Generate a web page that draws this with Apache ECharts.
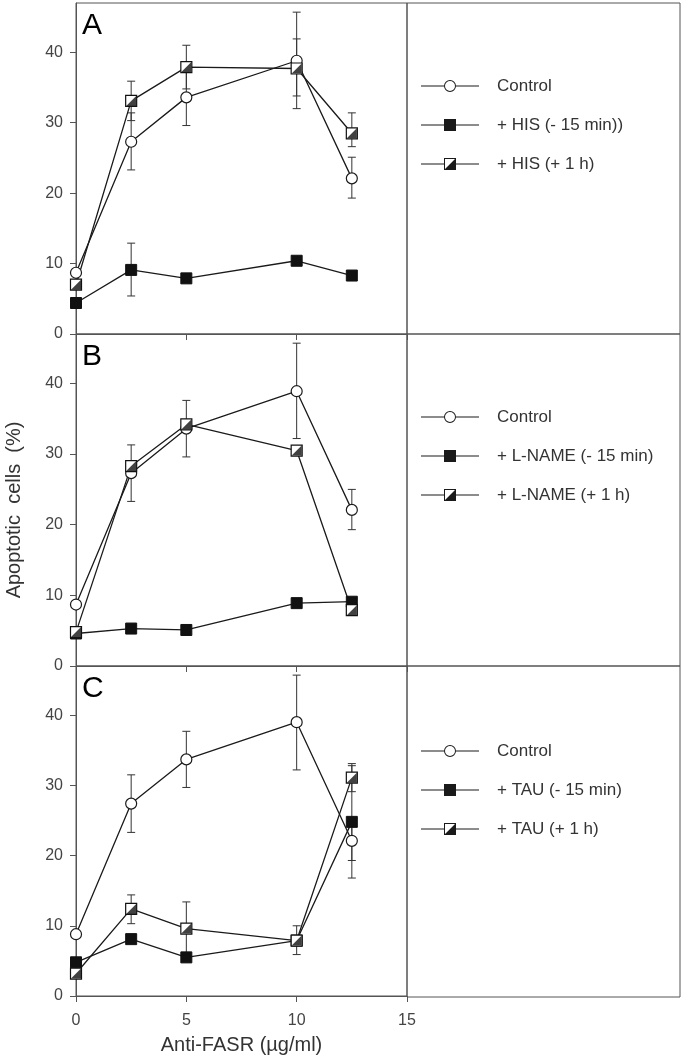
<!DOCTYPE html>
<html><head><meta charset="utf-8">
<script src="https://cdn.jsdelivr.net/npm/echarts@6/dist/echarts.min.js"></script>
<style>html,body{margin:0;padding:0;background:#fff}#c{width:683px;height:1056px}</style>
</head><body><div id="c"></div><script>
// ---------- data ----------
const doses = [0, 2.5, 5, 10, 12.5];
const xTicks = [0, 5, 10, 15];
const yTicks = [0, 10, 20, 30, 40];
const panelLetters = ['A', 'B', 'C'];
const xTitle = 'Anti-FASR (µg/ml)';
const yTitle = 'Apoptotic  cells  (%)';

const namesA = ['Control', '+ HIS (- 15 min))', '+ HIS (+ 1 h)'];
const namesB = ['Control', '+ L-NAME (- 15 min)', '+ L-NAME (+ 1 h)'];
const namesC = ['Control', '+ TAU (- 15 min)', '+ TAU (+ 1 h)'];

// Panel A
const controlA    = [8.7, 27.3, 33.6, 38.8, 22.1];
const controlA_lo = [null, 23.3, 29.6, 32.0, 19.3];
const controlA_hi = [null, 31.4, 37.6, 45.7, 25.1];
const hisPreA     = [4.4, 9.1, 7.9, 10.4, 8.3];
const hisPreA_lo  = [null, 5.4, null, null, null];
const hisPreA_hi  = [null, 12.9, null, null, null];
const hisPostA    = [7.0, 33.1, 37.9, 37.7, 28.5];
const hisPostA_lo = [null, 30.3, 34.8, 33.8, 26.6];
const hisPostA_hi = [null, 35.9, 41.0, 41.9, 31.4];

// Panel B
const controlB    = [8.7, 27.3, 33.6, 38.9, 22.1];
const controlB_lo = [null, 23.3, 29.6, 32.2, 19.3];
const controlB_hi = [null, 31.3, 37.6, 45.7, 25.0];
const lnamePreB    = [4.6, 5.3, 5.1, 8.9, 9.1];
const lnamePreB_lo = [null, null, null, null, null];
const lnamePreB_hi = [null, null, null, null, null];
const lnamePostB    = [4.8, 28.3, 34.2, 30.5, 7.9];
const lnamePostB_lo = [null, null, null, null, null];
const lnamePostB_hi = [null, null, null, null, null];

// Panel C
const controlC    = [8.8, 27.4, 33.7, 39.0, 22.1];
const controlC_lo = [null, 23.3, 29.7, 32.2, 19.3];
const controlC_hi = [null, 31.5, 37.7, 45.7, 25.0];
const tauPreC    = [4.8, 8.1, 5.5, 7.9, 24.8];
const tauPreC_lo = [null, null, null, 5.9, 16.8];
const tauPreC_hi = [null, null, null, 10.0, 32.8];
const tauPostC    = [3.2, 12.4, 9.6, 7.9, 31.1];
const tauPostC_lo = [null, 10.3, 5.6, null, 29.1];
const tauPostC_hi = [null, 14.4, 13.4, null, 33.1];

// ---------- layout ----------
const FONT = 'Liberation Sans, Arial, Helvetica, sans-serif';
const INK = '#1a1a1a';
const AX = '#555';
const panelTops = [3, 334, 666];
const panelHeights = [331, 332, 331];
const legendTops = [77, 408, 742];

const panels = [
  { names: namesA, series: [[controlA, controlA_lo, controlA_hi], [hisPreA, hisPreA_lo, hisPreA_hi], [hisPostA, hisPostA_lo, hisPostA_hi]] },
  { names: namesB, series: [[controlB, controlB_lo, controlB_hi], [lnamePreB, lnamePreB_lo, lnamePreB_hi], [lnamePostB, lnamePostB_lo, lnamePostB_hi]] },
  { names: namesC, series: [[controlC, controlC_lo, controlC_hi], [tauPreC, tauPreC_lo, tauPreC_hi], [tauPostC, tauPostC_lo, tauPostC_hi]] }
];

const lineL = 'M0,5.5 L23,5.5 L23,6.5 L0,6.5 Z ';
const lineR = 'M35,5.5 L58,5.5 L58,6.5 L35,6.5 Z ';
const iconCircle = 'path://' + lineL + lineR +
  'M23,6 A6,6 0 1,1 35,6 A6,6 0 1,1 23,6 Z M24,6 A5,5 0 1,0 34,6 A5,5 0 1,0 24,6 Z';
const iconFilled = 'path://' + lineL + lineR + 'M23,0 L35,0 L35,12 L23,12 Z';
const iconHalf = 'path://' + lineL + lineR +
  'M23,0 L35,0 L35,12 L23,12 Z M24,1 L24,11 L34,11 L34,1 Z M34,1 L34,11 L24,11 Z';
const legendIcons = [iconCircle, iconFilled, iconHalf];
const triPath = 'path://M10,0 L10,10 L0,10 Z';

function errData(lo, hi) {
  const out = [];
  doses.forEach((d, k) => { if (lo[k] != null && hi[k] != null) out.push([d, lo[k], hi[k]]); });
  return out;
}
function errRender(params, api) {
  const x = api.value(0);
  const pLo = api.coord([x, api.value(1)]);
  const pHi = api.coord([x, api.value(2)]);
  const w = 4;
  const st = { stroke: '#333', lineWidth: 1 };
  return { type: 'group', children: [
    { type: 'line', shape: { x1: pLo[0], y1: pLo[1], x2: pHi[0], y2: pHi[1] }, style: st },
    { type: 'line', shape: { x1: pHi[0] - w, y1: pHi[1], x2: pHi[0] + w, y2: pHi[1] }, style: st },
    { type: 'line', shape: { x1: pLo[0] - w, y1: pLo[1], x2: pLo[0] + w, y2: pLo[1] }, style: st }
  ]};
}

const grid = [], xAxis = [], yAxis = [], legend = [], series = [], title = [];
panels.forEach((p, i) => {
  grid.push({ left: 76, top: panelTops[i], width: 331, height: panelHeights[i], show: true, borderColor: AX, borderWidth: 1 });
});
panels.forEach((p, i) => {
  grid.push({ left: 407, top: panelTops[i], width: 273, height: panelHeights[i], show: true, borderColor: AX, borderWidth: 1 });
});
panels.forEach((p, i) => {
  xAxis.push({
    gridIndex: i, type: 'value', min: 0, max: 15, interval: 5,
    axisLine: { show: true, onZero: false, lineStyle: { color: AX, width: 1 } },
    axisTick: { show: true, inside: false, length: 6, customValues: xTicks, lineStyle: { color: AX } },
    axisLabel: { show: i === 2, customValues: xTicks, margin: 17, fontSize: 16, color: '#444', fontFamily: FONT },
    splitLine: { show: false },
    name: i === 2 ? xTitle : '', nameLocation: 'middle', nameGap: 39,
    nameTextStyle: { fontSize: 20, color: '#333', fontFamily: FONT }
  });
  yAxis.push({
    gridIndex: i, type: 'value', min: 0, max: 47,
    axisLine: { show: true, onZero: false, lineStyle: { color: AX, width: 1 } },
    axisTick: { show: true, inside: false, length: 6, customValues: yTicks, lineStyle: { color: AX } },
    axisLabel: { customValues: yTicks, margin: 13, fontSize: 16, color: '#444', fontFamily: FONT },
    splitLine: { show: false }
  });
});
panels.forEach((p, i) => {
  xAxis.push({ gridIndex: 3 + i, type: 'value', show: false, min: 0, max: 1 });
  yAxis.push({ gridIndex: 3 + i, type: 'value', show: false, min: 0, max: 1 });
});

panels.forEach((p, i) => {
  title.push({ text: panelLetters[i], left: 82, top: panelTops[i] + 8, padding: 0,
    textStyle: { fontSize: 30, fontWeight: 'normal', color: '#000', fontFamily: FONT } });
  legend.push({
    orient: 'vertical', left: 421, top: legendTops[i], padding: 0,
    itemWidth: 58, itemHeight: 12, itemGap: 21, selectedMode: false,
    itemStyle: { color: INK, borderWidth: 0 },
    data: p.names.map((n, k) => ({ name: n, icon: legendIcons[k] })),
    textStyle: { fontSize: 17, color: '#333', lineHeight: 18, fontFamily: FONT, padding: [0, 0, 0, 13] }
  });
  // error bars
  p.series.forEach((s) => {
    const d = errData(s[1], s[2]);
    if (d.length) series.push({
      type: 'custom', xAxisIndex: i, yAxisIndex: i, z: 1, clip: false,
      renderItem: errRender, data: d, silent: true
    });
  });
  const common = { type: 'line', xAxisIndex: i, yAxisIndex: i, z: 3, clip: false, silent: true,
    lineStyle: { color: INK, width: 1.3 }, emphasis: { disabled: true } };
  series.push(Object.assign({}, common, {
    name: p.names[0], symbol: 'circle', symbolSize: 11,
    itemStyle: { color: '#fff', borderColor: INK, borderWidth: 1.2 },
    data: doses.map((d, k) => [d, p.series[0][0][k]])
  }));
  series.push(Object.assign({}, common, {
    name: p.names[1], symbol: 'rect', symbolSize: 11,
    itemStyle: { color: '#111', borderColor: '#111', borderWidth: 1 },
    data: doses.map((d, k) => [d, p.series[1][0][k]])
  }));
  series.push(Object.assign({}, common, {
    name: p.names[2], symbol: 'rect', symbolSize: 11,
    itemStyle: { color: '#fff', borderColor: '#111', borderWidth: 1.2 },
    data: doses.map((d, k) => [d, p.series[2][0][k]])
  }));
  series.push({
    type: 'scatter', name: 'half-fill-' + i, xAxisIndex: i, yAxisIndex: i, z: 3, clip: false, silent: true,
    symbol: triPath, symbolSize: 10, itemStyle: { color: '#111' }, emphasis: { disabled: true },
    data: doses.map((d, k) => [d, p.series[2][0][k]])
  });
});

const chart = echarts.init(document.getElementById('c'), null, { renderer: 'canvas' });
chart.setOption({
  animation: false,
  backgroundColor: '#fff',
  title, grid, xAxis, yAxis, legend, series,
  graphic: [{
    type: 'text', x: 14, y: 510, rotation: Math.PI / 2,
    style: { text: yTitle, fontSize: 20, fontFamily: FONT, fill: '#333', textAlign: 'center', textVerticalAlign: 'middle' }
  }]
});
</script></body></html>
